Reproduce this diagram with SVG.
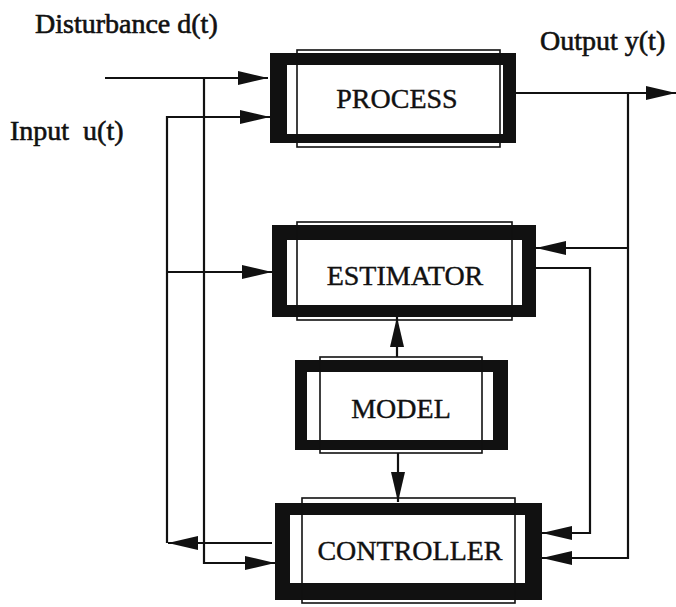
<svg xmlns="http://www.w3.org/2000/svg" width="676" height="607" viewBox="0 0 676 607">
<style>
.frame{fill:#111;fill-rule:evenodd}
.inner{fill:none;stroke:#111;stroke-width:1.6}
.lbl{font-family:"Liberation Serif","Times New Roman",serif;font-size:28px;fill:#111;stroke:#111;stroke-width:0.6;white-space:pre}
.box{font-family:"Liberation Serif","Times New Roman",serif;font-size:28px;fill:#111;stroke:#111;stroke-width:0.4;text-anchor:middle}
.c{fill:none;stroke:#111;stroke-width:2.2}
</style>
<defs>
<marker id="ah" markerUnits="userSpaceOnUse" markerWidth="30" markerHeight="16" refX="30" refY="7" orient="auto">
<path d="M0,0 L30,7 L0,14 Z" fill="#111"/>
</marker>
</defs>
<rect width="676" height="607" fill="#fff"/>
<text class="lbl" x="35" y="33">Disturbance d(t)</text>
<text class="lbl" x="540" y="50">Output y(t)</text>
<text class="lbl" x="10" y="140" xml:space="preserve">Input  u(t)</text>

<g id="connectors">
<path class="c" d="M105,78 H268" marker-end="url(#ah)"/>
<path class="c" d="M204,78 V563 H275" marker-end="url(#ah)"/>
<path class="c" d="M272,543 H168" marker-end="url(#ah)"/>
<path class="c" d="M167,543 V117 H270" marker-end="url(#ah)"/>
<path class="c" d="M167,272 H272" marker-end="url(#ah)"/>
<path class="c" d="M516,93 H676" marker-end="url(#ah)"/>
<path class="c" d="M628,93 V558 H542" marker-end="url(#ah)"/>
<path class="c" d="M628,248 H536" marker-end="url(#ah)"/>
<path class="c" d="M536,268 H590 V533 H542" marker-end="url(#ah)"/>
<path class="c" d="M397,357 V317" marker-end="url(#ah)"/>
<path class="c" d="M398,453 V502" marker-end="url(#ah)"/>
</g>

<g id="process">
<path class="frame" d="M270,53 H516 V143 H270 Z M287,65 V134 H503 V65 Z"/>
<rect class="inner" x="297" y="50" width="203" height="97"/>
<text class="box" x="397" y="108">PROCESS</text>
</g>
<g id="estimator">
<path class="frame" d="M272,225 H536 V317 H272 Z M287,240 V305 H522 V240 Z"/>
<rect class="inner" x="297" y="222" width="215" height="98"/>
<text class="box" x="405" y="285">ESTIMATOR</text>
</g>
<g id="model">
<path class="frame" d="M295,360 H508 V450 H295 Z M307,372 V440 H493 V372 Z"/>
<rect class="inner" x="320" y="357" width="162" height="96"/>
<text class="box" x="401" y="418">MODEL</text>
</g>
<g id="controller">
<path class="frame" d="M275,503 H542 V600 H275 Z M290,515 V583 H525 V515 Z"/>
<rect class="inner" x="302" y="498" width="213" height="105"/>
<text class="box" x="410" y="560">CONTROLLER</text>
</g>
</svg>
